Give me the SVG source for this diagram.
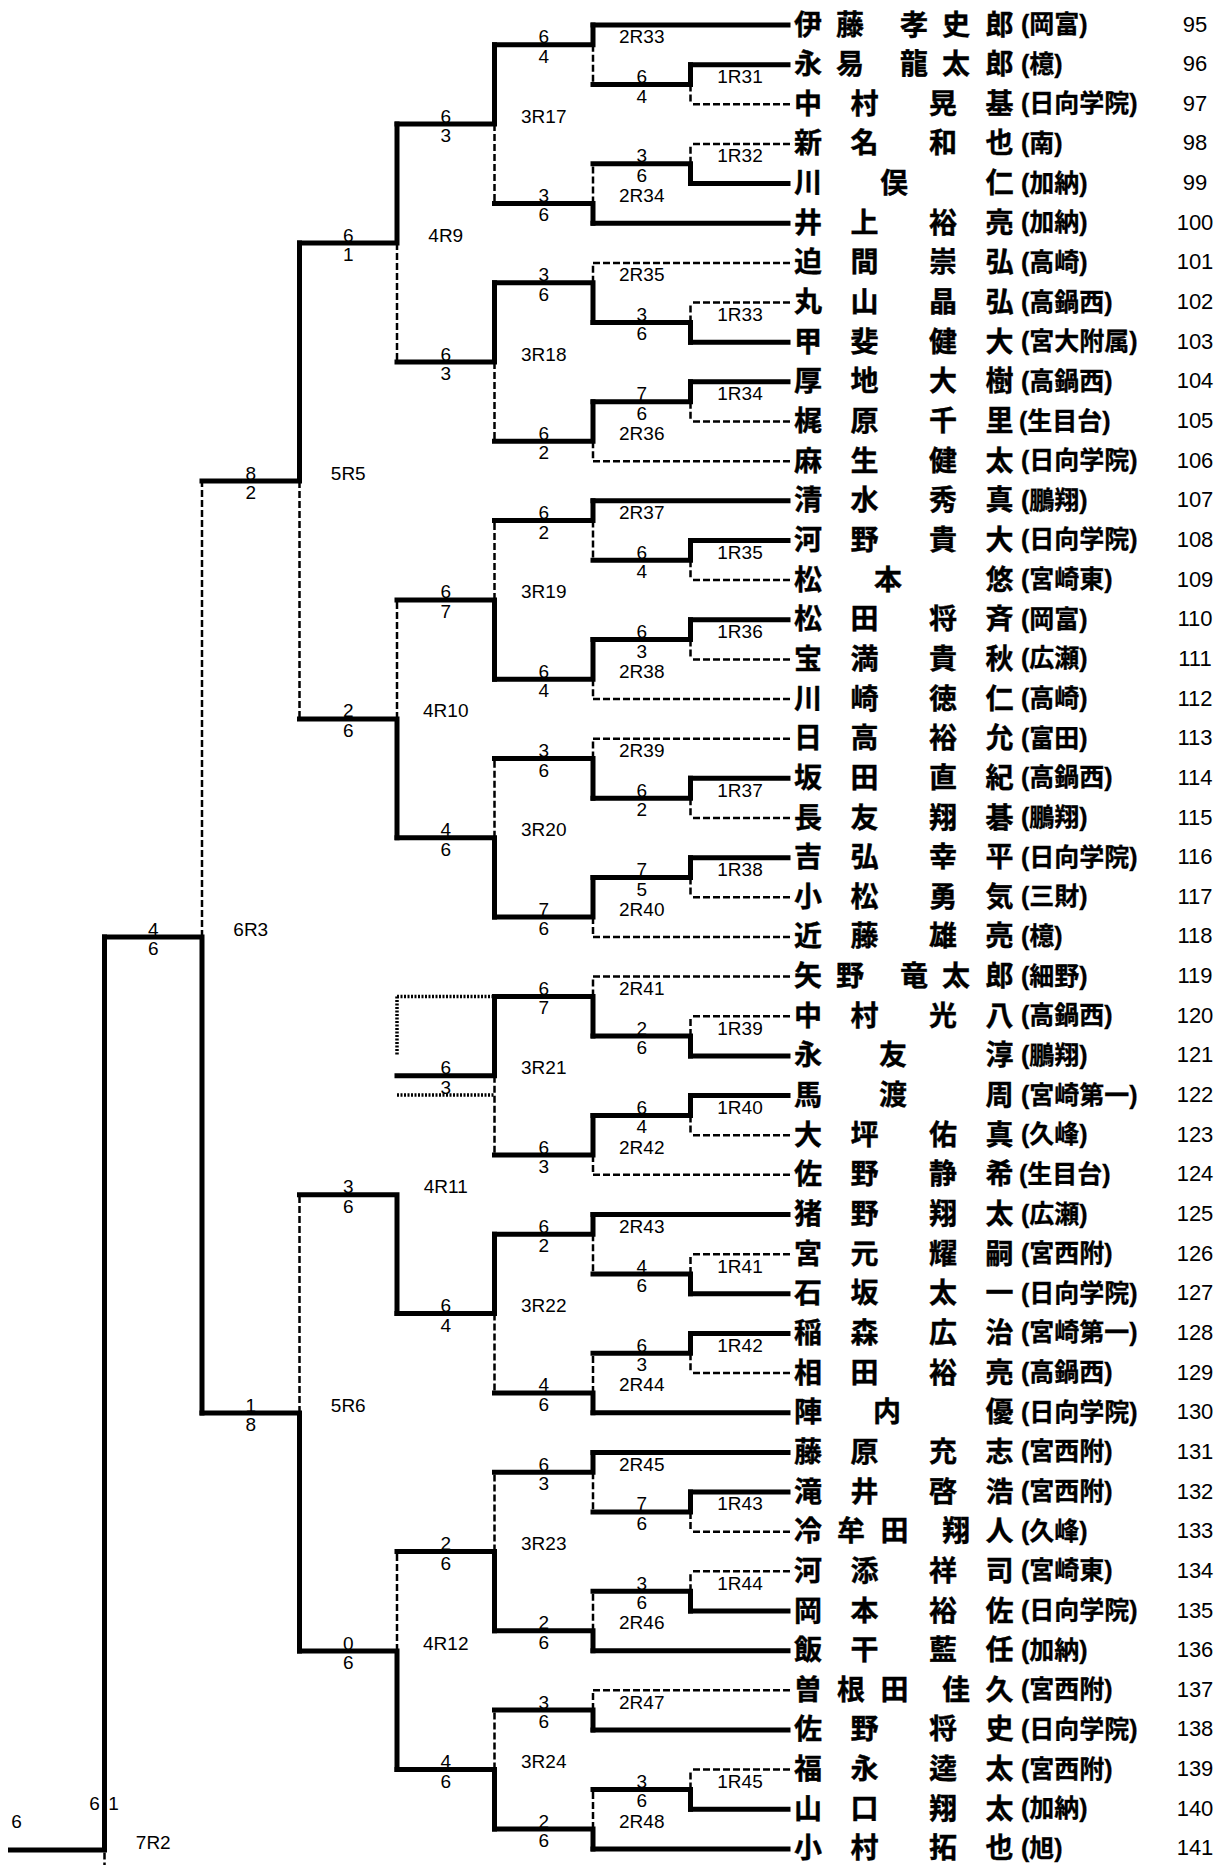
<svg xmlns="http://www.w3.org/2000/svg" width="1220" height="1865" viewBox="0 0 1220 1865">
<style>
.w{stroke:#000;stroke-width:5;fill:none;stroke-linecap:square}
.l{stroke:#000;stroke-width:2.5;fill:none;stroke-dasharray:7 3}
.d{stroke:#000;stroke-width:3.5;fill:none;stroke-dasharray:2 1.5}
.nm{font-family:"Noto Sans CJK JP","Noto Sans CJK SC",sans-serif;font-weight:700;font-size:28px;stroke:#000;stroke-width:0.4}
.sc{font-family:"Liberation Sans","Noto Sans CJK JP",sans-serif;font-weight:700;font-size:25px;stroke:#000;stroke-width:0.3}
.no{font-family:"Liberation Sans",Arial,sans-serif;font-size:22px;text-anchor:middle}
.t{font-family:"Liberation Sans",Arial,sans-serif;font-size:19px;text-anchor:middle}
</style>
<rect width="1220" height="1865" fill="#fff"/>
<g id="connectors">
<path class="w" d="M788 25H593M788 64.65H690.5M788 183.6H690.5M788 223.25H593M788 342.2H690.5M788 381.85H690.5M788 500.8H593M788 540.45H690.5M788 619.75H690.5M788 778.35H690.5M788 857.65H690.5M788 1055.9H690.5M788 1095.55H690.5M788 1214.5H593M788 1293.8H690.5M788 1333.45H690.5M788 1412.75H593M788 1452.4H593M788 1492.05H690.5M788 1611H690.5M788 1650.65H593M788 1729.95H593M788 1809.25H690.5M788 1848.9H593"/>
<path class="l" d="M790 104.3H690.5M790 143.95H690.5M790 262.9H593M790 302.55H690.5M790 421.5H690.5M790 461.15H593M790 580.1H690.5M790 659.4H690.5M790 699.05H593M790 738.7H593M790 818H690.5M790 897.3H690.5M790 936.95H593M790 976.6H593M790 1016.25H690.5M790 1135.2H690.5M790 1174.85H593M790 1254.15H690.5M790 1373.1H690.5M790 1531.7H690.5M790 1571.35H690.5M790 1690.3H593M790 1769.6H690.5"/>
<path class="w" d="M690.5 64.65V84.5H593M690.5 183.6V163.8H593M690.5 342.2V322.4H593M690.5 381.85V401.7H593M690.5 540.45V560.3H593M690.5 619.75V639.6H593M690.5 778.35V798.2H593M690.5 857.65V877.5H593M690.5 1055.9V1036.1H593M690.5 1095.55V1115.4H593M690.5 1293.8V1274H593M690.5 1333.45V1353.3H593M690.5 1492.05V1511.9H593M690.5 1611V1591.2H593M690.5 1809.25V1789.4H593"/>
<path class="l" d="M690.5 84.5V104.3M690.5 163.8V143.95M690.5 322.4V302.55M690.5 401.7V421.5M690.5 560.3V580.1M690.5 639.6V659.4M690.5 798.2V818M690.5 877.5V897.3M690.5 1036.1V1016.25M690.5 1115.4V1135.2M690.5 1274V1254.15M690.5 1353.3V1373.1M690.5 1511.9V1531.7M690.5 1591.2V1571.35M690.5 1789.4V1769.6"/>
<path class="w" d="M593 25V44.8H494.5M593 223.25V203.4H494.5M593 322.4V282.7H494.5M593 401.7V441.3H494.5M593 500.8V520.6H494.5M593 639.6V679.2H494.5M593 798.2V758.5H494.5M593 877.5V917.1H494.5M593 1036.1V996.4H494.5M593 1115.4V1155H494.5M593 1214.5V1234.3H494.5M593 1412.75V1392.9H494.5M593 1452.4V1472.2H494.5M593 1650.65V1630.8H494.5M593 1729.95V1710.1H494.5M593 1848.9V1829.1H494.5"/>
<path class="l" d="M593 44.8V84.5M593 203.4V163.8M593 282.7V262.9M593 441.3V461.15M593 520.6V560.3M593 679.2V699.05M593 758.5V738.7M593 917.1V936.95M593 996.4V976.6M593 1155V1174.85M593 1234.3V1274M593 1392.9V1353.3M593 1472.2V1511.9M593 1630.8V1591.2M593 1710.1V1690.3M593 1829.1V1789.4"/>
<path class="w" d="M494.5 44.8V124.1H397M494.5 282.7V362H397M494.5 679.2V599.9H397M494.5 917.1V837.8H397M494.5 996.4V1075.7H397M494.5 1234.3V1313.6H397M494.5 1630.8V1551.5H397M494.5 1829.1V1769.6H397"/>
<path class="l" d="M494.5 124.1V203.4M494.5 362V441.3M494.5 599.9V520.6M494.5 837.8V758.5M494.5 1075.7V1155M494.5 1313.6V1392.9M494.5 1551.5V1472.2M494.5 1769.6V1710.1"/>
<path class="w" d="M397 124.1V243.1H299.5M397 837.8V718.9H299.5M397 1313.6V1194.7H299.5M397 1769.6V1651H299.5"/>
<path class="l" d="M397 243.1V362M397 718.9V599.9M397 1651V1551.5"/>
<path class="d" d="M397 996.4H492M397 996.4V1055M397 1095H494.5"/>
<path class="w" d="M299.5 243.1V481H202M299.5 1651V1413H202"/>
<path class="l" d="M299.5 481V718.9M299.5 1413V1194.7"/>
<path class="w" d="M202 1413V937H104.5"/>
<path class="l" d="M202 937V481"/>
<path class="w" d="M104.5 937V1850H10.5"/>
<path class="l" d="M104.5 1852.5V1865"/>
</g>
<g id="matches">
<g id="m1R31"><text class="t" x="740" y="83">1R31</text><text class="t" x="641.75" y="83">6</text><text class="t" x="641.75" y="102.5">4</text></g>
<g id="m1R32"><text class="t" x="740" y="162.3">1R32</text><text class="t" x="641.75" y="162.3">3</text><text class="t" x="641.75" y="181.8">6</text></g>
<g id="m1R33"><text class="t" x="740" y="320.9">1R33</text><text class="t" x="641.75" y="320.9">3</text><text class="t" x="641.75" y="340.4">6</text></g>
<g id="m1R34"><text class="t" x="740" y="400.2">1R34</text><text class="t" x="641.75" y="400.2">7</text><text class="t" x="641.75" y="419.7">6</text></g>
<g id="m1R35"><text class="t" x="740" y="558.8">1R35</text><text class="t" x="641.75" y="558.8">6</text><text class="t" x="641.75" y="578.3">4</text></g>
<g id="m1R36"><text class="t" x="740" y="638.1">1R36</text><text class="t" x="641.75" y="638.1">6</text><text class="t" x="641.75" y="657.6">3</text></g>
<g id="m1R37"><text class="t" x="740" y="796.7">1R37</text><text class="t" x="641.75" y="796.7">6</text><text class="t" x="641.75" y="816.2">2</text></g>
<g id="m1R38"><text class="t" x="740" y="876">1R38</text><text class="t" x="641.75" y="876">7</text><text class="t" x="641.75" y="895.5">5</text></g>
<g id="m1R39"><text class="t" x="740" y="1034.6">1R39</text><text class="t" x="641.75" y="1034.6">2</text><text class="t" x="641.75" y="1054.1">6</text></g>
<g id="m1R40"><text class="t" x="740" y="1113.9">1R40</text><text class="t" x="641.75" y="1113.9">6</text><text class="t" x="641.75" y="1133.4">4</text></g>
<g id="m1R41"><text class="t" x="740" y="1272.5">1R41</text><text class="t" x="641.75" y="1272.5">4</text><text class="t" x="641.75" y="1292">6</text></g>
<g id="m1R42"><text class="t" x="740" y="1351.8">1R42</text><text class="t" x="641.75" y="1351.8">6</text><text class="t" x="641.75" y="1371.3">3</text></g>
<g id="m1R43"><text class="t" x="740" y="1510.4">1R43</text><text class="t" x="641.75" y="1510.4">7</text><text class="t" x="641.75" y="1529.9">6</text></g>
<g id="m1R44"><text class="t" x="740" y="1589.7">1R44</text><text class="t" x="641.75" y="1589.7">3</text><text class="t" x="641.75" y="1609.2">6</text></g>
<g id="m1R45"><text class="t" x="740" y="1787.9">1R45</text><text class="t" x="641.75" y="1787.9">3</text><text class="t" x="641.75" y="1807.4">6</text></g>
<g id="m2R33"><text class="t" x="641.75" y="43.3">2R33</text><text class="t" x="543.75" y="43.3">6</text><text class="t" x="543.75" y="62.8">4</text></g>
<g id="m2R34"><text class="t" x="641.75" y="201.9">2R34</text><text class="t" x="543.75" y="201.9">3</text><text class="t" x="543.75" y="221.4">6</text></g>
<g id="m2R35"><text class="t" x="641.75" y="281.2">2R35</text><text class="t" x="543.75" y="281.2">3</text><text class="t" x="543.75" y="300.7">6</text></g>
<g id="m2R36"><text class="t" x="641.75" y="439.8">2R36</text><text class="t" x="543.75" y="439.8">6</text><text class="t" x="543.75" y="459.3">2</text></g>
<g id="m2R37"><text class="t" x="641.75" y="519.1">2R37</text><text class="t" x="543.75" y="519.1">6</text><text class="t" x="543.75" y="538.6">2</text></g>
<g id="m2R38"><text class="t" x="641.75" y="677.7">2R38</text><text class="t" x="543.75" y="677.7">6</text><text class="t" x="543.75" y="697.2">4</text></g>
<g id="m2R39"><text class="t" x="641.75" y="757">2R39</text><text class="t" x="543.75" y="757">3</text><text class="t" x="543.75" y="776.5">6</text></g>
<g id="m2R40"><text class="t" x="641.75" y="915.6">2R40</text><text class="t" x="543.75" y="915.6">7</text><text class="t" x="543.75" y="935.1">6</text></g>
<g id="m2R41"><text class="t" x="641.75" y="994.9">2R41</text><text class="t" x="543.75" y="994.9">6</text><text class="t" x="543.75" y="1014.4">7</text></g>
<g id="m2R42"><text class="t" x="641.75" y="1153.5">2R42</text><text class="t" x="543.75" y="1153.5">6</text><text class="t" x="543.75" y="1173">3</text></g>
<g id="m2R43"><text class="t" x="641.75" y="1232.8">2R43</text><text class="t" x="543.75" y="1232.8">6</text><text class="t" x="543.75" y="1252.3">2</text></g>
<g id="m2R44"><text class="t" x="641.75" y="1391.4">2R44</text><text class="t" x="543.75" y="1391.4">4</text><text class="t" x="543.75" y="1410.9">6</text></g>
<g id="m2R45"><text class="t" x="641.75" y="1470.7">2R45</text><text class="t" x="543.75" y="1470.7">6</text><text class="t" x="543.75" y="1490.2">3</text></g>
<g id="m2R46"><text class="t" x="641.75" y="1629.3">2R46</text><text class="t" x="543.75" y="1629.3">2</text><text class="t" x="543.75" y="1648.8">6</text></g>
<g id="m2R47"><text class="t" x="641.75" y="1708.6">2R47</text><text class="t" x="543.75" y="1708.6">3</text><text class="t" x="543.75" y="1728.1">6</text></g>
<g id="m2R48"><text class="t" x="641.75" y="1827.6">2R48</text><text class="t" x="543.75" y="1827.6">2</text><text class="t" x="543.75" y="1847.1">6</text></g>
<g id="m3R17"><text class="t" x="543.75" y="122.6">3R17</text><text class="t" x="445.75" y="122.6">6</text><text class="t" x="445.75" y="142.1">3</text></g>
<g id="m3R18"><text class="t" x="543.75" y="360.5">3R18</text><text class="t" x="445.75" y="360.5">6</text><text class="t" x="445.75" y="380">3</text></g>
<g id="m3R19"><text class="t" x="543.75" y="598.4">3R19</text><text class="t" x="445.75" y="598.4">6</text><text class="t" x="445.75" y="617.9">7</text></g>
<g id="m3R20"><text class="t" x="543.75" y="836.3">3R20</text><text class="t" x="445.75" y="836.3">4</text><text class="t" x="445.75" y="855.8">6</text></g>
<g id="m3R21"><text class="t" x="543.75" y="1074.2">3R21</text><text class="t" x="445.75" y="1074.2">6</text><text class="t" x="445.75" y="1093.7">3</text></g>
<g id="m3R22"><text class="t" x="543.75" y="1312.1">3R22</text><text class="t" x="445.75" y="1312.1">6</text><text class="t" x="445.75" y="1331.6">4</text></g>
<g id="m3R23"><text class="t" x="543.75" y="1550">3R23</text><text class="t" x="445.75" y="1550">2</text><text class="t" x="445.75" y="1569.5">6</text></g>
<g id="m3R24"><text class="t" x="543.75" y="1768.1">3R24</text><text class="t" x="445.75" y="1768.1">4</text><text class="t" x="445.75" y="1787.6">6</text></g>
<g id="m4R9"><text class="t" x="445.75" y="241.6">4R9</text><text class="t" x="348.25" y="241.6">6</text><text class="t" x="348.25" y="261.1">1</text></g>
<g id="m4R10"><text class="t" x="445.75" y="717.4">4R10</text><text class="t" x="348.25" y="717.4">2</text><text class="t" x="348.25" y="736.9">6</text></g>
<g id="m4R11"><text class="t" x="445.75" y="1193.2">4R11</text><text class="t" x="348.25" y="1193.2">3</text><text class="t" x="348.25" y="1212.7">6</text></g>
<g id="m4R12"><text class="t" x="445.75" y="1649.5">4R12</text><text class="t" x="348.25" y="1649.5">0</text><text class="t" x="348.25" y="1669">6</text></g>
<g id="m5R5"><text class="t" x="348.25" y="479.5">5R5</text><text class="t" x="250.75" y="479.5">8</text><text class="t" x="250.75" y="499">2</text></g>
<g id="m5R6"><text class="t" x="348.25" y="1411.5">5R6</text><text class="t" x="250.75" y="1411.5">1</text><text class="t" x="250.75" y="1431">8</text></g>
<g id="m6R3"><text class="t" x="250.75" y="935.5">6R3</text><text class="t" x="153.25" y="935.5">4</text><text class="t" x="153.25" y="955">6</text></g>
<g id="m7R2"><text class="t" x="153.25" y="1848.5">7R2</text><text class="t" x="94.5" y="1810">6</text><text class="t" x="113.5" y="1810">1</text><text class="t" x="16.5" y="1828">6</text></g>
</g>
<g id="players">
<g id="p95"><text class="nm" x="794 836 900 942 985.5" y="34.5">伊藤孝史郎</text><text class="sc" x="1021" y="33">(岡富)</text><text class="no" x="1195" y="31.5">95</text></g>
<g id="p96"><text class="nm" x="794 836 900 942 985.5" y="74.15">永易龍太郎</text><text class="sc" x="1021" y="72.65">(檍)</text><text class="no" x="1195" y="71.15">96</text></g>
<g id="p97"><text class="nm" x="794 850.5 929 985.5" y="113.8">中村晃基</text><text class="sc" x="1021" y="112.3">(日向学院)</text><text class="no" x="1195" y="110.8">97</text></g>
<g id="p98"><text class="nm" x="794 850.5 929 985.5" y="153.45">新名和也</text><text class="sc" x="1021" y="151.95">(南)</text><text class="no" x="1195" y="150.45">98</text></g>
<g id="p99"><text class="nm" x="794 880 985.5" y="193.1">川俣仁</text><text class="sc" x="1021" y="191.6">(加納)</text><text class="no" x="1195" y="190.1">99</text></g>
<g id="p100"><text class="nm" x="794 850.5 929 985.5" y="232.75">井上裕亮</text><text class="sc" x="1021" y="231.25">(加納)</text><text class="no" x="1195" y="229.75">100</text></g>
<g id="p101"><text class="nm" x="794 850.5 929 985.5" y="272.4">迫間崇弘</text><text class="sc" x="1021" y="270.9">(高崎)</text><text class="no" x="1195" y="269.4">101</text></g>
<g id="p102"><text class="nm" x="794 850.5 929 985.5" y="312.05">丸山晶弘</text><text class="sc" x="1021" y="310.55">(高鍋西)</text><text class="no" x="1195" y="309.05">102</text></g>
<g id="p103"><text class="nm" x="794 850.5 929 985.5" y="351.7">甲斐健大</text><text class="sc" x="1021" y="350.2">(宮大附属)</text><text class="no" x="1195" y="348.7">103</text></g>
<g id="p104"><text class="nm" x="794 850.5 929 985.5" y="391.35">厚地大樹</text><text class="sc" x="1021" y="389.85">(高鍋西)</text><text class="no" x="1195" y="388.35">104</text></g>
<g id="p105"><text class="nm" x="794 850.5 929 985.5" y="431">梶原千里</text><text class="sc" x="1019" y="429.5">(生目台)</text><text class="no" x="1195" y="428">105</text></g>
<g id="p106"><text class="nm" x="794 850.5 929 985.5" y="470.65">麻生健太</text><text class="sc" x="1021" y="469.15">(日向学院)</text><text class="no" x="1195" y="467.65">106</text></g>
<g id="p107"><text class="nm" x="794 850.5 929 985.5" y="510.3">清水秀真</text><text class="sc" x="1021" y="508.8">(鵬翔)</text><text class="no" x="1195" y="507.3">107</text></g>
<g id="p108"><text class="nm" x="794 850.5 929 985.5" y="549.95">河野貴大</text><text class="sc" x="1021" y="548.45">(日向学院)</text><text class="no" x="1195" y="546.95">108</text></g>
<g id="p109"><text class="nm" x="794 874 985.5" y="589.6">松本悠</text><text class="sc" x="1021" y="588.1">(宮崎東)</text><text class="no" x="1195" y="586.6">109</text></g>
<g id="p110"><text class="nm" x="794 850.5 929 985.5" y="629.25">松田将斉</text><text class="sc" x="1021" y="627.75">(岡富)</text><text class="no" x="1195" y="626.25">110</text></g>
<g id="p111"><text class="nm" x="794 850.5 929 985.5" y="668.9">宝満貴秋</text><text class="sc" x="1021" y="667.4">(広瀬)</text><text class="no" x="1195" y="665.9">111</text></g>
<g id="p112"><text class="nm" x="794 850.5 929 985.5" y="708.55">川崎徳仁</text><text class="sc" x="1021" y="707.05">(高崎)</text><text class="no" x="1195" y="705.55">112</text></g>
<g id="p113"><text class="nm" x="794 850.5 929 985.5" y="748.2">日高裕允</text><text class="sc" x="1021" y="746.7">(富田)</text><text class="no" x="1195" y="745.2">113</text></g>
<g id="p114"><text class="nm" x="794 850.5 929 985.5" y="787.85">坂田直紀</text><text class="sc" x="1021" y="786.35">(高鍋西)</text><text class="no" x="1195" y="784.85">114</text></g>
<g id="p115"><text class="nm" x="794 850.5 929 985.5" y="827.5">長友翔碁</text><text class="sc" x="1021" y="826">(鵬翔)</text><text class="no" x="1195" y="824.5">115</text></g>
<g id="p116"><text class="nm" x="794 850.5 929 985.5" y="867.15">吉弘幸平</text><text class="sc" x="1021" y="865.65">(日向学院)</text><text class="no" x="1195" y="864.15">116</text></g>
<g id="p117"><text class="nm" x="794 850.5 929 985.5" y="906.8">小松勇気</text><text class="sc" x="1021" y="905.3">(三財)</text><text class="no" x="1195" y="903.8">117</text></g>
<g id="p118"><text class="nm" x="794 850.5 929 985.5" y="946.45">近藤雄亮</text><text class="sc" x="1021" y="944.95">(檍)</text><text class="no" x="1195" y="943.45">118</text></g>
<g id="p119"><text class="nm" x="794 836 900 942 985.5" y="986.1">矢野竜太郎</text><text class="sc" x="1021" y="984.6">(細野)</text><text class="no" x="1195" y="983.1">119</text></g>
<g id="p120"><text class="nm" x="794 850.5 929 985.5" y="1025.75">中村光八</text><text class="sc" x="1021" y="1024.25">(高鍋西)</text><text class="no" x="1195" y="1022.75">120</text></g>
<g id="p121"><text class="nm" x="794 879 985.5" y="1065.4">永友淳</text><text class="sc" x="1021" y="1063.9">(鵬翔)</text><text class="no" x="1195" y="1062.4">121</text></g>
<g id="p122"><text class="nm" x="794 879 985.5" y="1105.05">馬渡周</text><text class="sc" x="1021" y="1103.55">(宮崎第一)</text><text class="no" x="1195" y="1102.05">122</text></g>
<g id="p123"><text class="nm" x="794 850.5 929 985.5" y="1144.7">大坪佑真</text><text class="sc" x="1021" y="1143.2">(久峰)</text><text class="no" x="1195" y="1141.7">123</text></g>
<g id="p124"><text class="nm" x="794 850.5 929 985.5" y="1184.35">佐野静希</text><text class="sc" x="1019" y="1182.85">(生目台)</text><text class="no" x="1195" y="1181.35">124</text></g>
<g id="p125"><text class="nm" x="794 850.5 929 985.5" y="1224">猪野翔太</text><text class="sc" x="1021" y="1222.5">(広瀬)</text><text class="no" x="1195" y="1221">125</text></g>
<g id="p126"><text class="nm" x="794 850.5 929 985.5" y="1263.65">宮元耀嗣</text><text class="sc" x="1021" y="1262.15">(宮西附)</text><text class="no" x="1195" y="1260.65">126</text></g>
<g id="p127"><text class="nm" x="794 850.5 929 985.5" y="1303.3">石坂太一</text><text class="sc" x="1021" y="1301.8">(日向学院)</text><text class="no" x="1195" y="1300.3">127</text></g>
<g id="p128"><text class="nm" x="794 850.5 929 985.5" y="1342.95">稲森広治</text><text class="sc" x="1021" y="1341.45">(宮崎第一)</text><text class="no" x="1195" y="1339.95">128</text></g>
<g id="p129"><text class="nm" x="794 850.5 929 985.5" y="1382.6">相田裕亮</text><text class="sc" x="1021" y="1381.1">(高鍋西)</text><text class="no" x="1195" y="1379.6">129</text></g>
<g id="p130"><text class="nm" x="794 873 985.5" y="1422.25">陣内優</text><text class="sc" x="1021" y="1420.75">(日向学院)</text><text class="no" x="1195" y="1419.25">130</text></g>
<g id="p131"><text class="nm" x="794 850.5 929 985.5" y="1461.9">藤原充志</text><text class="sc" x="1021" y="1460.4">(宮西附)</text><text class="no" x="1195" y="1458.9">131</text></g>
<g id="p132"><text class="nm" x="794 850.5 929 985.5" y="1501.55">滝井啓浩</text><text class="sc" x="1021" y="1500.05">(宮西附)</text><text class="no" x="1195" y="1498.55">132</text></g>
<g id="p133"><text class="nm" x="794 837 880.5 942 985.5" y="1541.2">冷牟田翔人</text><text class="sc" x="1021" y="1539.7">(久峰)</text><text class="no" x="1195" y="1538.2">133</text></g>
<g id="p134"><text class="nm" x="794 850.5 929 985.5" y="1580.85">河添祥司</text><text class="sc" x="1021" y="1579.35">(宮崎東)</text><text class="no" x="1195" y="1577.85">134</text></g>
<g id="p135"><text class="nm" x="794 850.5 929 985.5" y="1620.5">岡本裕佐</text><text class="sc" x="1021" y="1619">(日向学院)</text><text class="no" x="1195" y="1617.5">135</text></g>
<g id="p136"><text class="nm" x="794 850.5 929 985.5" y="1660.15">飯干藍任</text><text class="sc" x="1021" y="1658.65">(加納)</text><text class="no" x="1195" y="1657.15">136</text></g>
<g id="p137"><text class="nm" x="794 837 880.5 942 985.5" y="1699.8">曽根田佳久</text><text class="sc" x="1021" y="1698.3">(宮西附)</text><text class="no" x="1195" y="1696.8">137</text></g>
<g id="p138"><text class="nm" x="794 850.5 929 985.5" y="1739.45">佐野将史</text><text class="sc" x="1021" y="1737.95">(日向学院)</text><text class="no" x="1195" y="1736.45">138</text></g>
<g id="p139"><text class="nm" x="794 850.5 929 985.5" y="1779.1">福永逵太</text><text class="sc" x="1021" y="1777.6">(宮西附)</text><text class="no" x="1195" y="1776.1">139</text></g>
<g id="p140"><text class="nm" x="794 850.5 929 985.5" y="1818.75">山口翔太</text><text class="sc" x="1021" y="1817.25">(加納)</text><text class="no" x="1195" y="1815.75">140</text></g>
<g id="p141"><text class="nm" x="794 850.5 929 985.5" y="1858.4">小村拓也</text><text class="sc" x="1021" y="1856.9">(旭)</text><text class="no" x="1195" y="1855.4">141</text></g>
</g>
</svg>
